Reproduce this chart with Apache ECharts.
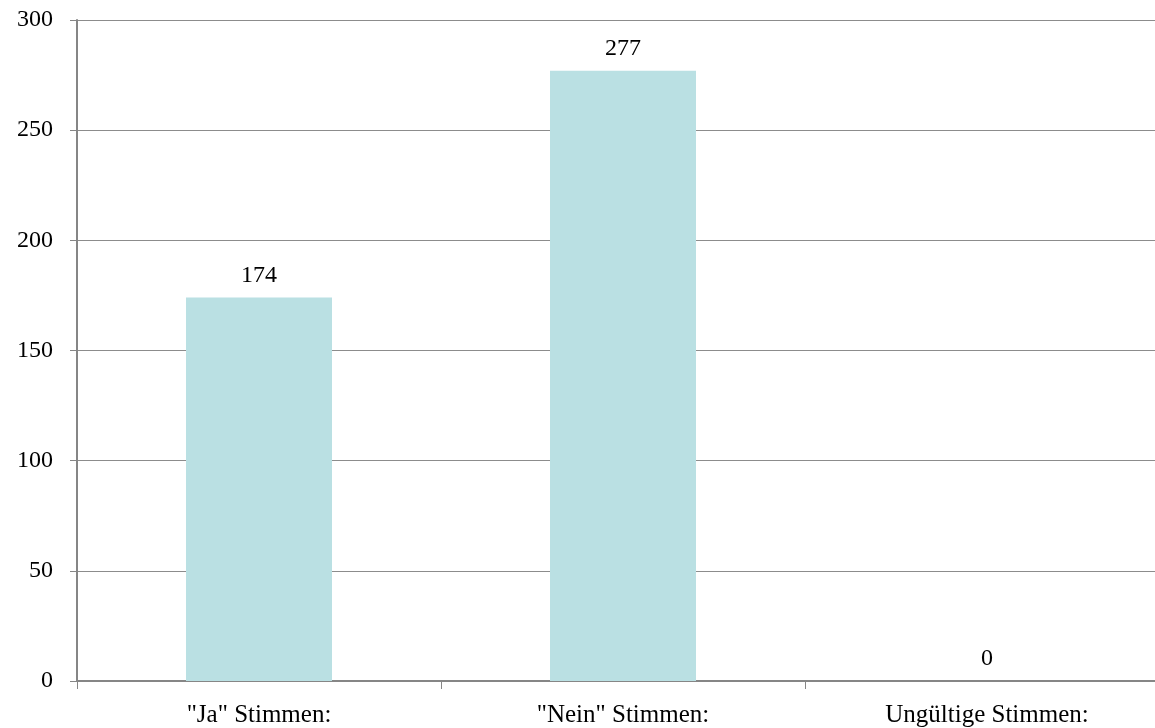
<!DOCTYPE html>
<html>
<head>
<meta charset="utf-8">
<script src="https://cdn.jsdelivr.net/npm/echarts@6/dist/echarts.min.js"></script>
<style>
html,body{margin:0;padding:0;background:#fff;overflow:hidden;width:1155px;height:728px;}
#chart{width:1169px;height:728px;}
</style>
</head>
<body>
<div id="chart"></div>
<script>
const categories = ['"Ja" Stimmen:', '"Nein" Stimmen:', 'Ungültige Stimmen:'];
const values = [174, 277, 0];
const yTicks = [0, 50, 100, 150, 200, 250, 300];

const chart = echarts.init(document.getElementById('chart'), null, {renderer: 'canvas'});
const font = 'Liberation Serif, Times New Roman, serif';
chart.setOption({
  backgroundColor: '#ffffff',
  animation: false,
  grid: {left: 77, right: 0, top: 20, bottom: 44, containLabel: false},
  xAxis: {
    type: 'category',
    data: categories,
    boundaryGap: true,
    axisLine: {show: true, lineStyle: {color: '#868686', width: 2}},
    axisTick: {show: true, length: 8, alignWithLabel: false, lineStyle: {color: '#868686', width: 1}},
    axisLabel: {color: '#000', fontFamily: font, fontSize: 25, margin: 22, interval: 0}
  },
  yAxis: {
    type: 'value',
    min: yTicks[0],
    max: yTicks[yTicks.length - 1],
    interval: 50,
    axisLine: {show: true, lineStyle: {color: '#868686', width: 2}},
    axisTick: {show: true, length: 7, lineStyle: {color: '#868686'}},
    axisLabel: {color: '#000', fontFamily: font, fontSize: 24, margin: 24},
    splitLine: {show: true, lineStyle: {color: '#8c8c8c', width: 1}}
  },
  series: [{
    type: 'bar',
    data: values,
    barWidth: 146,
    itemStyle: {color: '#bae0e3'},
    label: {show: true, position: 'top', distance: 10, color: '#000', fontFamily: font, fontSize: 24}
  }]
});
</script>
</body>
</html>
